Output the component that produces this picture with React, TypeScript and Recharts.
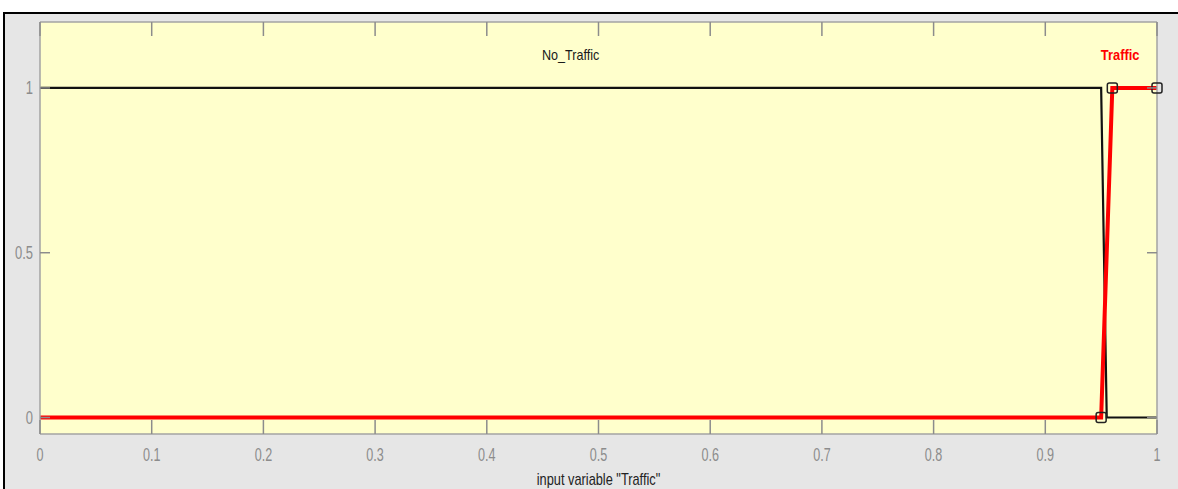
import React from 'react';
import { LineChart, Line, XAxis, YAxis, CartesianGrid, ReferenceDot, Label } from 'recharts';

// membership functions of input variable "Traffic"
const noTrafficX = [0, 0.95, 0.955, 1];
const noTrafficY = [1, 1, 0, 0];
const trafficX = [0, 0.95, 0.96, 1];
const trafficY = [0, 0, 1, 1];

const xTicks = [0, 0.1, 0.2, 0.3, 0.4, 0.5, 0.6, 0.7, 0.8, 0.9, 1];
const yTicks = [0, 0.5, 1];

const mfNames = ['No_Traffic', 'Traffic'];
const mfLabelX = [0.475, 0.967];
const mfLabelY = [1.1, 1.1];
const mfLabelColor = ['#1a1a1a', '#ff0000'];

const noTrafficData = noTrafficX.map((x, i) => ({ x, y: noTrafficY[i] }));
const trafficData = trafficX.map((x, i) => ({ x, y: trafficY[i] }));

const FONT = '"Liberation Sans", Arial, sans-serif';
const TICK_GRAY = '#8c8c8c';
const FRAME_GRAY = '#a3a3a3';

function ScaledText({ x, y, text, size, sx, fill, weight = 'normal', anchor = 'middle', baseline = 'auto' }: any) {
  return (
    <text
      transform={`translate(${x},${y}) scale(${sx},1)`}
      textAnchor={anchor}
      dominantBaseline={baseline}
      fontFamily={FONT}
      fontSize={size}
      fontWeight={weight}
      fill={fill}
    >
      {text}
    </text>
  );
}

const BottomTick = ({ x, y, payload }: any) => (
  <g>
    <line x1={x} y1={y} x2={x} y2={y - 14} stroke={TICK_GRAY} strokeWidth={1.5} />
    <ScaledText x={x} y={y + 27} text={String(payload.value)} size={18} sx={0.7} fill={TICK_GRAY} />
  </g>
);

const TopTick = ({ x, y }: any) => (
  <line x1={x} y1={y} x2={x} y2={y + 14} stroke={TICK_GRAY} strokeWidth={1.5} />
);

const LeftTick = ({ x, y, payload }: any) => (
  <g>
    <line x1={x} y1={y} x2={x + 10} y2={y} stroke={TICK_GRAY} strokeWidth={1.5} />
    <ScaledText x={x - 7} y={y + 6} text={String(payload.value)} size={18} sx={0.72} fill={TICK_GRAY} anchor="end" />
  </g>
);

const RightTick = ({ x, y }: any) => (
  <line x1={x} y1={y} x2={x - 10} y2={y} stroke={TICK_GRAY} strokeWidth={1.5} />
);

const VertexMarker = ({ cx, cy, index }: any) => {
  if (index === 0) return <g key={index} />;
  return (
    <rect
      key={index}
      x={cx - 5}
      y={cy - 5}
      width={10}
      height={10}
      rx={2}
      fill="none"
      stroke="#222"
      strokeWidth={1.5}
    />
  );
};

export default function App() {
  return (
    <div style={{ position: 'absolute', left: 0, top: 0, width: 1178, height: 489, background: '#fff', overflow: 'hidden' }}>
      <div
        style={{
          position: 'absolute',
          left: 3,
          top: 12,
          right: 0,
          bottom: 0,
          borderTop: '2px solid #000',
          borderLeft: '2px solid #000',
          background: '#e6e6e6',
        }}
      />
      <div style={{ position: 'absolute', left: 0, top: 0 }}>
        <LineChart width={1178} height={489} margin={{ top: 21, right: 20, bottom: 0, left: 39 }}>
          <CartesianGrid horizontal={false} vertical={false} fill="#ffffcc" />
          <XAxis
            dataKey="x"
            type="number"
            domain={[0, 1]}
            ticks={xTicks}
            height={55}
            tickSize={0}
            tickMargin={0}
            tickLine={false}
            tick={<BottomTick />}
            axisLine={{ stroke: FRAME_GRAY, strokeWidth: 1.5 }}
            interval={0}
          >
            <Label
              content={({ viewBox }: any) => (
                <ScaledText
                  x={viewBox.x + viewBox.width / 2}
                  y={viewBox.y + 51}
                  text={'input variable "Traffic"'}
                  size={16}
                  sx={0.8}
                  fill="#222"
                />
              )}
            />
          </XAxis>
          {/* same scale as the bottom axis, drawn for the top frame and ticks */}
          <XAxis
            xAxisId="top"
            orientation="top"
            dataKey="x"
            type="number"
            domain={[0, 1]}
            ticks={xTicks}
            height={1}
            tickSize={0}
            tickMargin={0}
            tickLine={false}
            tick={<TopTick />}
            axisLine={{ stroke: FRAME_GRAY, strokeWidth: 1.5 }}
            interval={0}
          />
          <YAxis
            type="number"
            domain={[-0.05, 1.2]}
            ticks={yTicks}
            width={1}
            tickSize={0}
            tickMargin={0}
            tickLine={false}
            tick={<LeftTick />}
            axisLine={{ stroke: FRAME_GRAY, strokeWidth: 1.5 }}
            interval={0}
          />
          <YAxis
            yAxisId="right"
            orientation="right"
            type="number"
            domain={[-0.05, 1.2]}
            ticks={yTicks}
            width={1}
            tickSize={0}
            tickMargin={0}
            tickLine={false}
            tick={<RightTick />}
            axisLine={{ stroke: FRAME_GRAY, strokeWidth: 1.5 }}
            interval={0}
          />
          <Line
            data={noTrafficData}
            xAxisId="top"
            yAxisId="right"
            dataKey="y"
            type="linear"
            stroke="#111"
            strokeWidth={2.2}
            dot={false}
            activeDot={false}
            isAnimationActive={false}
          />
          <Line
            data={trafficData}
            dataKey="y"
            type="linear"
            stroke="#ff0000"
            strokeWidth={4}
            dot={(p: any) => <VertexMarker key={p.index} {...p} />}
            activeDot={false}
            isAnimationActive={false}
          />
          {mfNames.map((name, i) => (
            <ReferenceDot
              key={name}
              x={mfLabelX[i]}
              y={mfLabelY[i]}
              r={0}
              shape={(p: any) => (
                <ScaledText
                  x={p.cx}
                  y={p.cy}
                  text={name}
                  size={14}
                  sx={i === 0 ? 0.9 : 0.92}
                  fill={mfLabelColor[i]}
                  weight={i === 0 ? 'normal' : 'bold'}
                  baseline="central"
                />
              )}
            />
          ))}
        </LineChart>
      </div>
    </div>
  );
}
